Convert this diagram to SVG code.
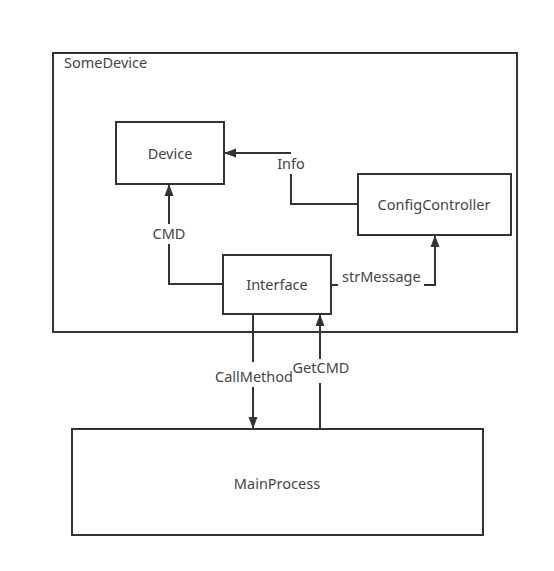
<svg xmlns="http://www.w3.org/2000/svg" width="554" height="571" viewBox="0 0 554 571">
<defs>
<marker id="ah" markerWidth="12" markerHeight="12" refX="11" refY="5" orient="auto" markerUnits="userSpaceOnUse">
<path d="M0,0.5 L12,5 L0,9.5 Z" fill="#333"/>
</marker>
<style>
.box{fill:#fff;stroke:#333;stroke-width:2}
.ln{fill:none;stroke:#333;stroke-width:2}
.t{font-family:"Noto Sans","Open Sans",sans-serif;font-size:14.5px;fill:#444}
.c{text-anchor:middle}
.bg{fill:#fff}
</style>
</defs>
<rect width="554" height="571" fill="#fff"/>
<g id="SomeDevice">
<rect class="box" x="53" y="53" width="464" height="279"/>
<text class="t" x="64" y="68">SomeDevice</text>
</g>
<g id="MainProcess">
<rect class="box" x="72" y="429" width="411" height="106"/>
<text class="t c" x="277" y="489">MainProcess</text>
</g>
<g id="connectors">
<path class="ln" d="M291,153 L225,153" marker-end="url(#ah)"/>
<path class="ln" d="M358,204 L291,204 L291,174"/>
<path class="ln" d="M169,224 L169,185" marker-end="url(#ah)"/>
<path class="ln" d="M223,284 L169,284 L169,244"/>
<path class="ln" d="M331,285 L338,285"/>
<path class="ln" d="M424,285 L435,285 L435,236" marker-end="url(#ah)"/>
<path class="ln" d="M253,315 L253,362"/>
<path class="ln" d="M253,387 L253,428" marker-end="url(#ah)"/>
<path class="ln" d="M320,429 L320,383"/>
<path class="ln" d="M320,359 L320,315" marker-end="url(#ah)"/>
<text class="t c" x="291" y="169">Info</text>
<text class="t c" x="169" y="239">CMD</text>
<text class="t" x="342" y="282">strMessage</text>
<text class="t c" x="254" y="382">CallMethod</text>
<rect class="bg" x="292" y="360" width="58" height="17"/>
<text class="t c" x="321" y="373">GetCMD</text>
</g>
<g id="Device">
<rect class="box" x="116" y="122" width="108" height="62"/>
<text class="t c" x="170" y="159">Device</text>
</g>
<g id="ConfigController">
<rect class="box" x="358" y="174" width="153" height="61"/>
<text class="t c" x="434" y="210">ConfigController</text>
</g>
<g id="Interface">
<rect class="box" x="223" y="255" width="108" height="59"/>
<text class="t c" x="277" y="290">Interface</text>
</g>
</svg>
